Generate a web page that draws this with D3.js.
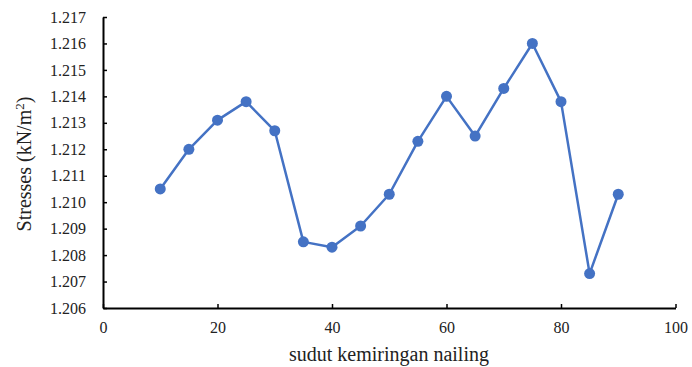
<!DOCTYPE html>
<html><head><meta charset="utf-8">
<script src="https://cdn.jsdelivr.net/npm/d3@7"></script>
<style>body{margin:0;background:#fff}svg{display:block}svg text{font-family:"Liberation Serif","Times New Roman","DejaVu Serif",serif !important}</style>
</head><body>
<svg id="c" width="692" height="367"></svg>
<script>
const xValues = [10,15,20,25,30,35,40,45,50,55,60,65,70,75,80,85,90];
const stresses = [1.2105,1.2120,1.2131,1.2138,1.2127,1.2085,1.2083,1.2091,1.2103,1.2123,1.2140,1.2125,1.2143,1.2160,1.2138,1.2073,1.2103];
const xTicks = [0,20,40,60,80,100];
const yTicks = [1.206,1.207,1.208,1.209,1.210,1.211,1.212,1.213,1.214,1.215,1.216,1.217];
const xTitle = "sudut kemiringan nailing";

const svg = d3.select("#c");
const x = d3.scaleLinear().domain([0,100]).range([103,675.5]);
const y = d3.scaleLinear().domain([1.206,1.217]).range([308,17]);
const color = "#4472C4";

const gx = svg.append("g").attr("transform","translate(0,308)")
  .call(d3.axisBottom(x).tickValues(xTicks).tickSize(-4).tickPadding(14).tickSizeOuter(0).tickFormat(d3.format("d")));
const gy = svg.append("g").attr("transform","translate(103,0)")
  .call(d3.axisLeft(y).tickValues(yTicks).tickSize(-4).tickPadding(17).tickSizeOuter(0).tickFormat(d3.format(".3f")));
[gx,gy].forEach(g=>{
  g.attr("font-family",null);
  g.select(".domain").attr("stroke","#000").attr("stroke-width",2);
  g.selectAll(".tick line").attr("stroke","#000").attr("stroke-width",1.5);
  g.selectAll("text").attr("font-size",16).attr("fill","#222");
});

const line = d3.line().x((d,i)=>x(xValues[i])).y(d=>y(d));
svg.append("path").datum(stresses).attr("d",line).attr("fill","none")
  .attr("stroke",color).attr("stroke-width",2.5).attr("stroke-linejoin","round");
svg.selectAll("circle.pt").data(stresses).enter().append("circle").attr("class","pt")
  .attr("cx",(d,i)=>x(xValues[i])).attr("cy",d=>y(d)).attr("r",5.5).attr("fill",color);

svg.append("text").attr("x",389).attr("y",361).attr("text-anchor","middle")
  .attr("font-size",20).attr("fill","#222").text(xTitle);
const yt = svg.append("text").attr("transform","translate(31,164) rotate(-90)").attr("text-anchor","middle")
  .attr("font-size",20).attr("fill","#222");
yt.append("tspan").text("Stresses (kN/m");
yt.append("tspan").attr("font-size",13).attr("dy",-7).text("2");
yt.append("tspan").attr("dy",7).text(")");
</script>
</body></html>
